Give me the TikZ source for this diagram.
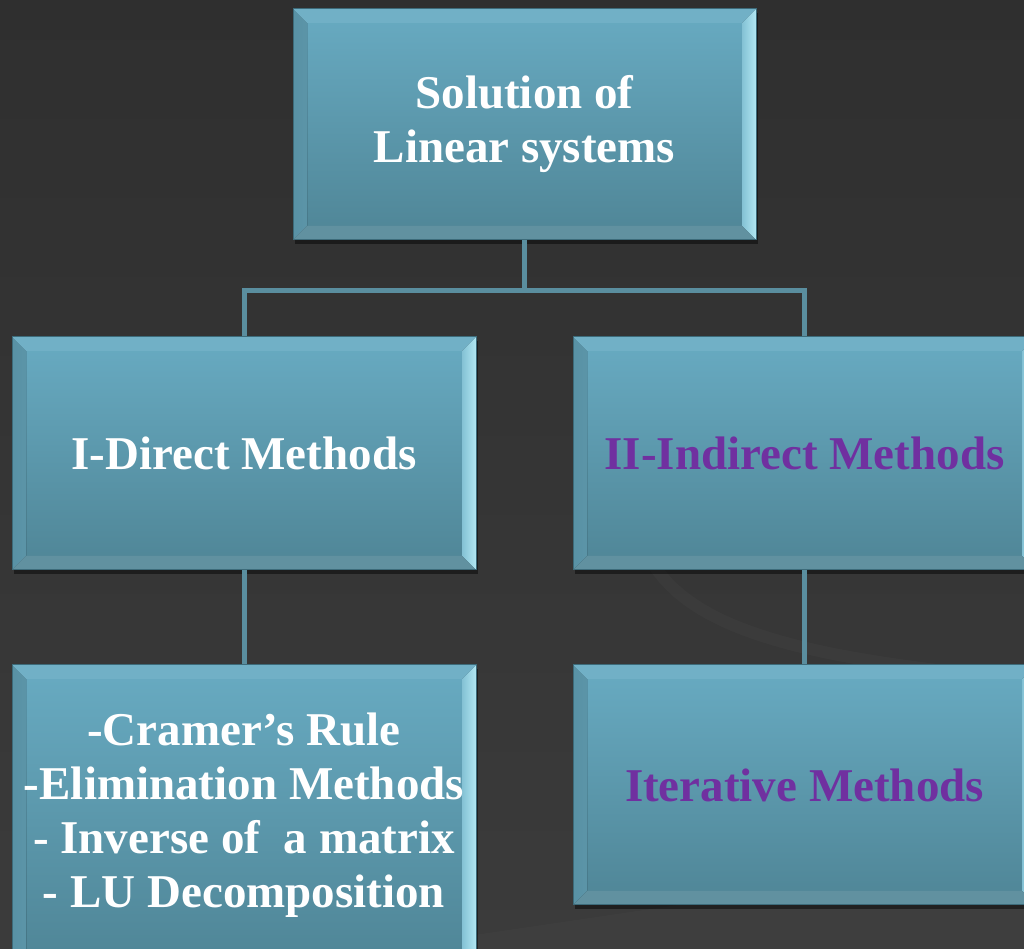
\documentclass[tikz,border=0pt]{standalone}
\usepackage{fontspec}
\setmainfont{Liberation Serif}
\usepackage{tikz}
\usetikzlibrary{calc, shadows}
\definecolor{bgtop}{HTML}{2F2F2F}
\definecolor{bgbot}{HTML}{3B3B3B}
\definecolor{boxtop}{HTML}{68ABC2}
\definecolor{boxbot}{HTML}{4F8596}
\definecolor{boxedge}{HTML}{3D6B7A}
\definecolor{bevlight}{HTML}{C4F6FF}
\definecolor{linkcol}{HTML}{5A8E9F}
\definecolor{methpurple}{HTML}{7030A0}
\tikzset{
bevelbox/.style={draw=boxedge, line width=1pt, top color=boxtop, bottom color=boxbot,
  drop shadow={fill=black, shadow xshift=2pt, shadow yshift=-4pt, opacity=0.45},
  font=\fontsize{47}{54}\selectfont\bfseries, align=center, inner sep=0pt,
  path picture={
    \fill[left color=boxtop!85!black, right color=bevlight]
      (path picture bounding box.north west) -- (path picture bounding box.south west)
      -- ($(path picture bounding box.south west)+(14,14)$) -- ($(path picture bounding box.north west)+(14,-14)$) -- cycle;
    \fill[left color=boxtop!70!bevlight, right color=bevlight!80!boxtop]
      (path picture bounding box.north east) -- (path picture bounding box.south east)
      -- ($(path picture bounding box.south east)+(-14,14)$) -- ($(path picture bounding box.north east)+(-14,-14)$) -- cycle;
    \fill[boxtop!94!white]
      (path picture bounding box.north west) -- (path picture bounding box.north east)
      -- ($(path picture bounding box.north east)+(-14,-14)$) -- ($(path picture bounding box.north west)+(14,-14)$) -- cycle;
    \fill[boxbot!90!white]
      (path picture bounding box.south west) -- (path picture bounding box.south east)
      -- ($(path picture bounding box.south east)+(-14,14)$) -- ($(path picture bounding box.south west)+(14,14)$) -- cycle;
  }},
link/.style={draw=linkcol, line width=5pt},
swoosh/.style={draw=white, opacity=0.025, line width=12pt}
}
\begin{document}
\begin{tikzpicture}[x=1pt, y=1pt]
\useasboundingbox (0,0) rectangle (1024,949);
\clip (0,0) rectangle (1024,949);
\fill[top color=bgtop, bottom color=bgbot] (0,0) rectangle (1024,949);
\draw[swoosh] (650,390) .. controls (690,320) and (800,290) .. (1024,270);
\fill[white, opacity=0.02] (380,0) -- (1024,95) -- (1024,0) -- cycle;

\node[bevelbox, minimum width=463, minimum height=231, text=white] (top) at (524.5,824.5) {Solution of\\Linear systems};
\node[bevelbox, minimum width=464, minimum height=233, text=white] (direct) at (244,495.5) {I-Direct Methods};
\node[bevelbox, minimum width=463, minimum height=233, text=methpurple] (indirect) at (804.5,495.5) {II-Indirect Methods};
\node[bevelbox, minimum width=464, minimum height=300, text=white] (cramer) at (244,134) {-Cramer's Rule\\-Elimination Methods\\- Inverse of \ a matrix\\- LU Decomposition};
\node[bevelbox, minimum width=463, minimum height=240, text=methpurple] (iter) at (804.5,164) {Iterative Methods};

\foreach \child in {direct, indirect}{
\draw[link] (top.south) -- ++(0,-50) -| (\child.north);
}
\foreach \upper/\lower in {direct/cramer, indirect/iter}{
\draw[link] (\upper.south) -- (\lower.north);
}
\end{tikzpicture}
\end{document}
